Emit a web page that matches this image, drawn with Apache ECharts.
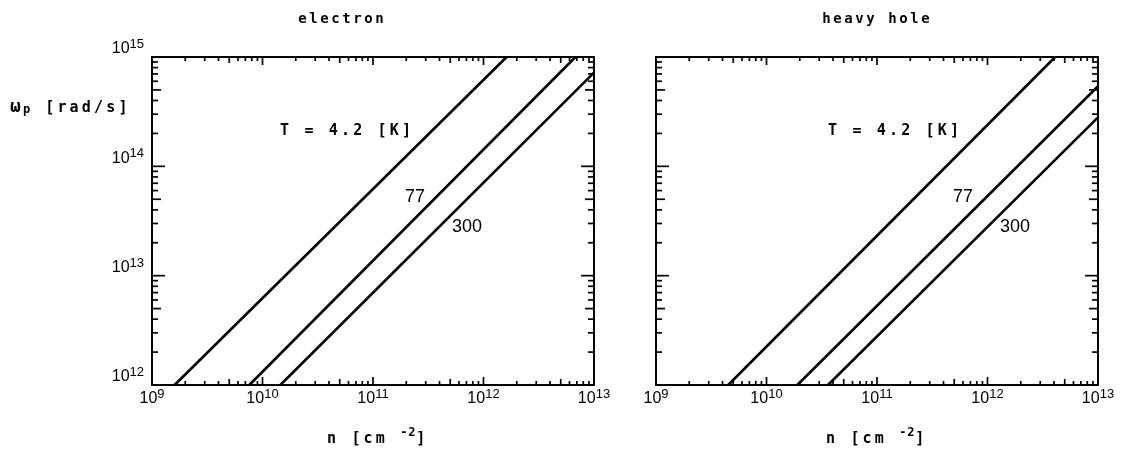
<!DOCTYPE html>
<html>
<head>
<meta charset="utf-8">
<script src="https://cdn.jsdelivr.net/npm/echarts@6/dist/echarts.min.js"></script>
<style>
  html, body { margin: 0; padding: 0; background: #fff; }
  #chart { width: 1130px; height: 452px; }
</style>
</head>
<body>
<div id="chart"></div>
<script>
// Axis ranges and tick values
const densityDecades = [1e9, 1e10, 1e11, 1e12, 1e13];
const freqDecades = [1e12, 1e13, 1e14, 1e15];
const minorSteps = [2, 3, 4, 5, 6, 7, 8, 9];

// Plasma frequency vs sheet density, endpoints of each straight log-log line
const electronT4 = [[1.6e9, 1e12], [1.62e12, 1e15]];
const electronT77 = [[7.6e9, 1e12], [6.8e12, 1e15]];
const electronT300 = [[1.45e10, 1e12], [1e13, 7.2e14]];
const holeT4 = [[4.5e9, 1e12], [4.1e12, 1e15]];
const holeT77 = [[1.9e10, 1e12], [1e13, 5.4e14]];
const holeT300 = [[3.6e10, 1e12], [1e13, 2.8e14]];

const panelTitles = ['electron', 'heavy hole'];
const curveLabels = ['T = 4.2 [K]', '77', '300'];

const X_MIN = densityDecades[0], X_MAX = densityDecades[densityDecades.length - 1];
const Y_MIN = freqDecades[0], Y_MAX = freqDecades[freqDecades.length - 1];

const MONO = '"DejaVu Sans Mono", monospace';
const SANS = '"Liberation Sans", Arial, sans-serif';

// spread characters on a fixed cell width (plotter-style lettering)
function cells(str, style) {
  return str.split('').map(c => '{' + style + '|' + c + '}').join('');
}
const monoRich = {
  m: { fontFamily: MONO, fontWeight: 'bold', fontSize: 15, width: 12.2, lineHeight: 20, verticalAlign: 'bottom', color: '#000' },
  ms: { fontFamily: MONO, fontWeight: 'bold', fontSize: 12, width: 8, lineHeight: 20, verticalAlign: 'top', color: '#000' },
  mp: { fontFamily: MONO, fontWeight: 'bold', fontSize: 12, width: 10, lineHeight: 26, verticalAlign: 'bottom', color: '#000' },
  w: { fontFamily: MONO, fontWeight: 'bold', fontSize: 18, width: 13, lineHeight: 20, verticalAlign: 'bottom', color: '#000' },
  t: { fontFamily: MONO, fontWeight: 'bold', fontSize: 14, width: 11, lineHeight: 20, color: '#000' }
};

const powRich = {
  b: { fontFamily: SANS, fontSize: 16, lineHeight: 19, verticalAlign: 'bottom', color: '#000' },
  s: { fontFamily: SANS, fontSize: 13, lineHeight: 19, verticalAlign: 'top', color: '#000' }
};
function powLabel(v) {
  const e = Math.round(Math.log10(v));
  return '{b|10}{s|' + e + '}';
}

// tick records: [x, y, kind(0 = x tick, 1 = y tick), rank(2 = decade, 1 = five, 0 = other)]
function buildTicks() {
  const out = [];
  densityDecades.forEach((d, i) => {
    out.push([d, Y_MIN, 0, 2]);
    if (i < densityDecades.length - 1) {
      minorSteps.forEach(m => out.push([d * m, Y_MIN, 0, m === 5 ? 1 : 0]));
    }
  });
  freqDecades.forEach((d, i) => {
    out.push([X_MIN, d, 1, 2]);
    if (i < freqDecades.length - 1) {
      minorSteps.forEach(m => out.push([X_MIN, d * m, 1, m === 5 ? 1 : 0]));
    }
  });
  return out;
}
const tickData = buildTicks();
const xTickLen = [4, 6, 8];
const yTickLen = [6, 9, 13];

function renderTick(params, api) {
  const kind = api.value(2), rank = api.value(3);
  const style = { stroke: '#000', lineWidth: 1.7 };
  if (kind === 0) {
    const v = api.value(0);
    const b = api.coord([v, Y_MIN]), t = api.coord([v, Y_MAX]);
    const L = xTickLen[rank];
    return { type: 'group', children: [
      { type: 'line', shape: { x1: b[0], y1: b[1], x2: b[0], y2: b[1] - L }, style },
      { type: 'line', shape: { x1: t[0], y1: t[1], x2: t[0], y2: t[1] + L }, style }
    ] };
  }
  const v = api.value(1);
  const l = api.coord([X_MIN, v]), r = api.coord([X_MAX, v]);
  const L = yTickLen[rank];
  return { type: 'group', children: [
    { type: 'line', shape: { x1: l[0], y1: l[1], x2: l[0] + L, y2: l[1] }, style },
    { type: 'line', shape: { x1: r[0], y1: r[1], x2: r[0] - L, y2: r[1] }, style }
  ] };
}

const gridBoxes = [
  { left: 152, top: 57, width: 442, height: 328 },
  { left: 656, top: 57, width: 442, height: 328 }
];

const xAxes = gridBoxes.map((g, i) => ({
  type: 'log', logBase: 10, gridIndex: i, min: X_MIN, max: X_MAX,
  axisLine: { show: false }, axisTick: { show: false }, splitLine: { show: false },
  axisLabel: { show: true, margin: 3, fontSize: 16, formatter: powLabel, rich: powRich, showMinLabel: true, showMaxLabel: true }
}));
const yAxes = gridBoxes.map((g, i) => ({
  type: 'log', logBase: 10, gridIndex: i, min: Y_MIN, max: Y_MAX,
  axisLine: { show: false }, axisTick: { show: false }, splitLine: { show: false },
  axisLabel: { show: i === 0, margin: 8, fontSize: 16, verticalAlign: 'bottom', formatter: powLabel, rich: powRich }
}));

function curve(data, gi) {
  return {
    type: 'line', data, xAxisIndex: gi, yAxisIndex: gi, showSymbol: false, silent: true,
    clip: true, lineStyle: { color: '#000', width: 2.6 }, animation: false
  };
}

const series = [
  curve(electronT4, 0), curve(electronT77, 0), curve(electronT300, 0),
  curve(holeT4, 1), curve(holeT77, 1), curve(holeT300, 1),
  { type: 'custom', xAxisIndex: 0, yAxisIndex: 0, data: tickData, renderItem: renderTick, silent: true, animation: false, clip: false },
  { type: 'custom', xAxisIndex: 1, yAxisIndex: 1, data: tickData, renderItem: renderTick, silent: true, animation: false, clip: false }
];

function text(x, y, str, rich, align) {
  return { type: 'text', x, y, silent: true,
    style: { text: str, rich, align: align || 'left', verticalAlign: 'middle', fill: '#000' } };
}
const sansRich = { d: { fontFamily: SANS, fontSize: 18, color: '#000' } };

const graphics = [
  text(341, 19, cells(panelTitles[0], 't'), monoRich, 'center'),
  text(876, 19, cells(panelTitles[1], 't'), monoRich, 'center'),
  text(280, 129, cells(curveLabels[0], 'm'), monoRich),
  text(828, 129, cells(curveLabels[0], 'm'), monoRich),
  text(405, 197, '{d|' + curveLabels[1] + '}', sansRich),
  text(953, 197, '{d|' + curveLabels[1] + '}', sansRich),
  text(452, 227, '{d|' + curveLabels[2] + '}', sansRich),
  text(1000, 227, '{d|' + curveLabels[2] + '}', sansRich),
  text(327, 437, cells('n [cm ', 'm') + cells('-2', 'ms') + cells(']', 'm'), monoRich),
  text(826, 437, cells('n [cm ', 'm') + cells('-2', 'ms') + cells(']', 'm'), monoRich),
  text(10, 103, cells('ω', 'w') + cells('p', 'mp') + cells(' [rad/s]', 'm'), monoRich)
];

const chart = echarts.init(document.getElementById('chart'), null, { renderer: 'canvas' });
chart.setOption({
  animation: false,
  backgroundColor: '#fff',
  grid: gridBoxes.map(g => Object.assign({ show: true, borderColor: '#000', borderWidth: 2, backgroundColor: 'transparent' }, g)),
  xAxis: xAxes,
  yAxis: yAxes,
  series,
  graphic: graphics
});
</script>
</body>
</html>
